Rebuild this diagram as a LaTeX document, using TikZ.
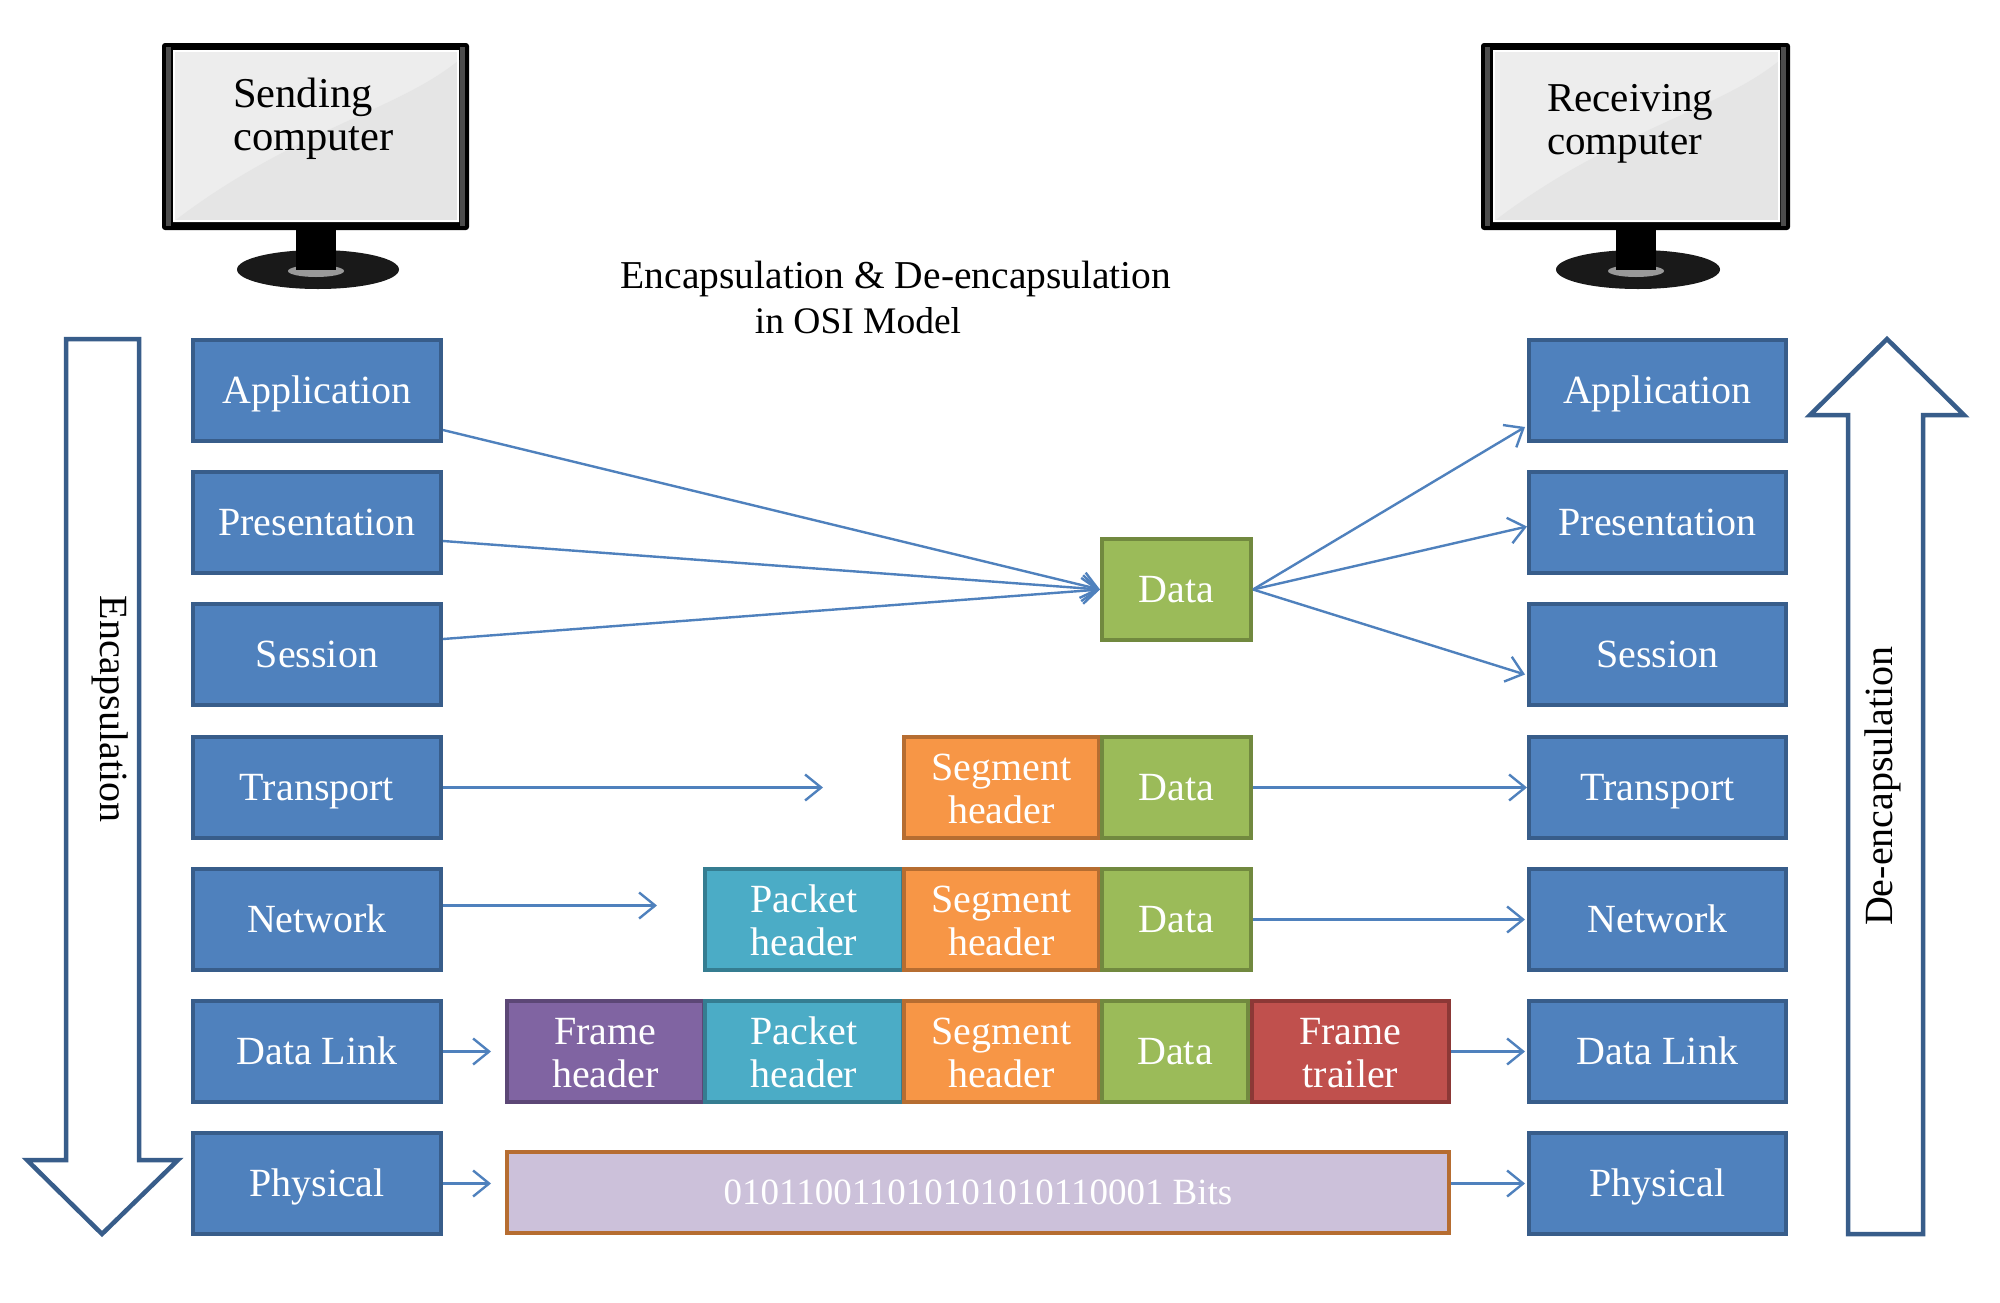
\documentclass[tikz,border=0pt]{standalone}
\usepackage{fontspec}
\setmainfont{Liberation Serif}
\usetikzlibrary{arrows.meta,calc}
\definecolor{bluef}{HTML}{4F81BD}\definecolor{blued}{HTML}{385D8A}
\definecolor{greenf}{HTML}{9BBB59}\definecolor{greend}{HTML}{71893F}
\definecolor{orangef}{HTML}{F79646}\definecolor{oranged}{HTML}{B66D31}
\definecolor{tealf}{HTML}{4BACC6}\definecolor{teald}{HTML}{357D91}
\definecolor{purplef}{HTML}{8064A2}\definecolor{purpled}{HTML}{5C4776}
\definecolor{redf}{HTML}{C0504D}\definecolor{redd}{HTML}{8C3836}
\definecolor{lilacf}{HTML}{CCC1DA}
\tikzset{
 x=1pt,y=-1pt,
 txt/.style={font=\fontsize{40}{43}\selectfont,align=center,inner sep=0pt},
 cell/.style={txt,text=white,minimum height=101pt,line width=4pt,rectangle,anchor=north west},
 twolines/.style={cell,text height=72pt,text depth=0pt},
 layerbox/.style={cell,fill=bluef,draw=blued,minimum width=248pt,text height=26pt,text depth=0pt},
 layerboxr/.style={layerbox,minimum width=257pt},
 datacell/.style={cell,fill=greenf,draw=greend,minimum width=149pt,text height=26pt,text depth=0pt},
 segcell/.style={twolines,fill=orangef,draw=oranged,minimum width=195pt},
 pktcell/.style={twolines,fill=tealf,draw=teald,minimum width=198pt},
 frmcell/.style={twolines,fill=purplef,draw=purpled,minimum width=197pt},
 trlcell/.style={twolines,fill=redf,draw=redd,minimum width=197pt},
 link/.style={draw=bluef,line width=2.4pt,-{Straight Barb[length=16pt,width=26pt,line width=2.4pt]}},
 bigarrow/.style={draw=blued,line width=4.5pt,fill=white,line join=miter},
 black text/.style={txt,text=black},
}
\newcommand{\monitor}[6]{% outer x0 x1, screen x0 x1, neck centre, base half width
 \fill[black,rounded corners=3pt] (#1,43) rectangle (#2,230);
 \fill[black!70] (#1+4,47) rectangle (#1+9,226);
 \fill[black!70] (#2-9,47) rectangle (#2-4,226);
 \fill[white!93!black] (#3,50) rectangle (#4,222);
 \fill[white!90!black] (#3,222) .. controls (#3+120,130) and (#4-60,110) .. (#4,60) -- (#4,222) -- cycle;
 \draw[white,line width=1.5pt] (#3+1,51) rectangle (#4-1,221);
 \fill[black!90] (#5+2,269.5) ellipse[x radius=#6,y radius=19.5];
 \fill[black!40] (#5,271) ellipse[x radius=28,y radius=6];
 \fill[black] (#5-20,230) rectangle (#5+20,270);
}
\begin{document}
\begin{tikzpicture}
\useasboundingbox (0,0) rectangle (2000,1302);
\fill[white] (0,0) rectangle (2000,1302);
% monitors
\monitor{162}{469}{173}{459}{316}{81}
\monitor{1481}{1790}{1493}{1780}{1636}{82}
\node[black text,align=left,anchor=west,font=\fontsize{42.5}{43}\selectfont] (sendT) at (233,119) {Sending\\computer};
\node[black text,align=left,anchor=west,font=\fontsize{41}{43}\selectfont] (recvT) at (1547,124) {Receiving\\computer};
\node[black text,anchor=center,font=\fontsize{39.5}{43}\selectfont] (title1) at (896,279) {Encapsulation \& De-encapsulation};
\node[black text,anchor=center,font=\fontsize{37.5}{43}\selectfont] (title2) at (858,321) {in OSI Model};
% big arrows
\draw[bigarrow] (66,339) -- (139,339) -- (139,1160) -- (178,1160) -- (102,1234) -- (27,1160) -- (66,1160) -- cycle;
\draw[bigarrow] (1848,1234) -- (1923,1234) -- (1923,415) -- (1964,415) -- (1887,339) -- (1810,415) -- (1848,415) -- cycle;
\node[black text,rotate=-90] (encT) at (110,709) {Encapsulation};
\node[black text,rotate=90] (decT) at (1883,786) {De-encapsulation};
% left layers
\node[layerbox] (appL) at (191,338) {Application};
\node[layerbox] (preL) at (191,470) {Presentation};
\node[layerbox] (sesL) at (191,602) {Session};
\node[layerbox] (traL) at (191,735) {Transport};
\node[layerbox] (netL) at (191,867) {Network};
\node[layerbox] (dlkL) at (191,999) {Data Link};
\node[layerbox] (phyL) at (191,1131) {Physical};
% right layers
\node[layerboxr] (appR) at (1527,338) {Application};
\node[layerboxr] (preR) at (1527,470) {Presentation};
\node[layerboxr] (sesR) at (1527,602) {Session};
\node[layerboxr] (traR) at (1527,735) {Transport};
\node[layerboxr] (netR) at (1527,867) {Network};
\node[layerboxr] (dlkR) at (1527,999) {Data Link};
\node[layerboxr] (phyR) at (1527,1131) {Physical};
% payload cells
\node[datacell] (d0) at (1100,537) {Data};
\node[segcell] (s1) at (902,735) {Segment\\header};
\node[datacell] (d1) at (1100,735) {Data};
\node[pktcell] (p2) at (703,867) {Packet\\header};
\node[segcell] (s2) at (902,867) {Segment\\header};
\node[datacell] (d2) at (1100,867) {Data};
\node[frmcell] (f3) at (505,999) {Frame\\header};
\node[pktcell] (p3) at (703,999) {Packet\\header};
\node[segcell] (s3) at (902,999) {Segment\\header};
\node[datacell,minimum width=146pt] (d3) at (1100,999) {Data};
\node[trlcell] (t3) at (1250,999) {Frame\\trailer};
\node[cell,fill=lilacf,draw=oranged,minimum width=942pt,minimum height=81pt,font=\fontsize{37}{40}\selectfont] (bits) at (505,1150) {010110011010101010110001 Bits};
% connectors
\draw[link] ($(appL.south east)+(0,-13)$) -- (d0.west);
\draw[link] ($(preL.south east)+(0,-34)$) -- (d0.west);
\draw[link] ($(sesL.north east)+(0,37)$) -- (d0.west);
\draw[link] (d0.east) -- ($(appR.south west)+(-2,-16)$);
\draw[link] (d0.east) -- ($(preR.west)+(0,4)$);
\draw[link] (d0.east) -- ($(sesR.west)+(-2,20)$);
\draw[link] (traL.east) -- ($(traL.east)+(380,0)$);
\draw[link] ($(netL.east)+(0,-14)$) -- ($(netL.east)+(214,-14)$);
\draw[link] (dlkL.east) -- ($(f3.west)+(-14,0)$);
\draw[link] (phyL.east) -- ($(phyL.east)+(48,0)$);
\draw[link] (d1.east) -- (traR.west);
\draw[link] (d2.east) -- ($(netR.west)+(-2,0)$);
\draw[link] (t3.east) -- ($(dlkR.west)+(-2,0)$);
\draw[link] (bits.east |- phyR.west) -- ($(phyR.west)+(-2,0)$);
\end{tikzpicture}
\end{document}
